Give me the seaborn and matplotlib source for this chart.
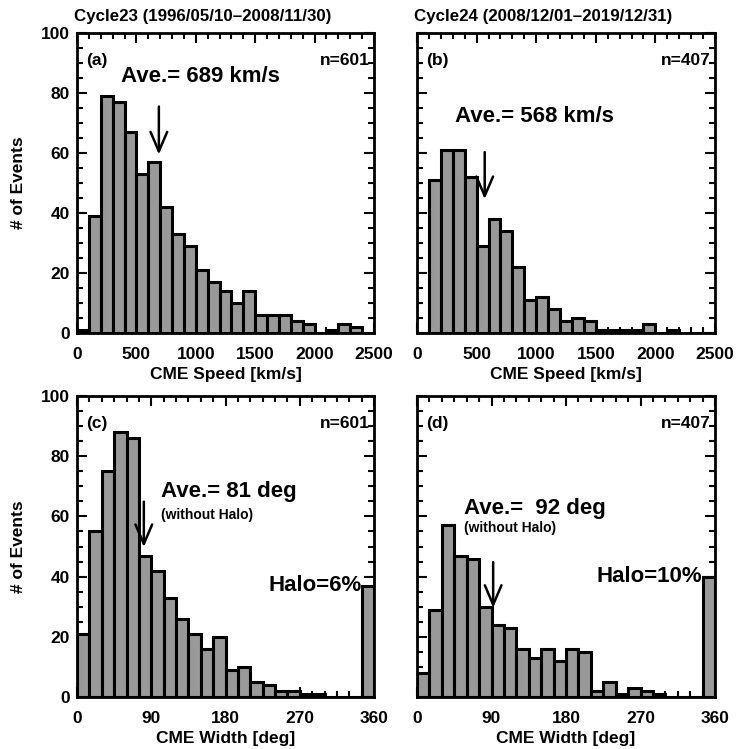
import matplotlib
matplotlib.use("Agg")
import matplotlib.pyplot as plt
import numpy as np
import pandas as pd
import seaborn as sns
from matplotlib.ticker import MultipleLocator

sns.set_theme(style="white")
plt.rcParams['font.family'] = ['Liberation Sans', 'DejaVu Sans']
plt.rcParams['font.weight'] = 'bold'
plt.rcParams['text.color'] = 'black'
plt.rcParams['axes.labelcolor'] = 'black'
plt.rcParams['xtick.color'] = 'black'
plt.rcParams['ytick.color'] = 'black'

# ---------------- data ----------------
speed_edges = list(range(0, 2600, 100))
speed_c23 = [1, 39, 79, 77, 67, 53, 57, 42, 33, 29, 21, 17, 14, 10, 14, 6, 6, 6, 4, 3, 0, 1, 3, 2, 0]
speed_c24 = [0, 51, 61, 61, 52, 29, 38, 34, 22, 11, 12, 8, 4, 5, 4, 1, 1, 1, 1, 3, 0, 1, 0, 0, 0]

width_edges = list(range(0, 375, 15))
width_c23 = [21, 55, 75, 88, 86, 47, 42, 33, 26, 21, 16, 20, 9, 10, 5, 4, 2, 2, 1, 1, 0, 0, 0, 37]
width_c24 = [8, 29, 57, 47, 46, 30, 24, 23, 16, 13, 16, 12, 16, 15, 2, 5, 1, 3, 2, 1, 0, 0, 0, 40]

titles = ["Cycle23 (1996/05/10\u20132008/11/30)", "Cycle24 (2008/12/01\u20132019/12/31)"]
panel_tags = ["(a)", "(b)", "(c)", "(d)"]
n_events = ["n=601", "n=407", "n=601", "n=407"]
speed_avg = [689, 568]
width_avg = [81, 92]
halo_text = ["Halo=6%", "Halo=10%"]

BAR = "#999999"
INK = "black"

W, H = 740, 749
fig = plt.figure(figsize=(W / 100, H / 100), dpi=100)

def box(l, t, r, b):
    return [l / W, (H - b) / H, (r - l) / W, (b - t) / H]

ax_a = fig.add_axes(box(77, 33, 374, 333))
ax_b = fig.add_axes(box(417, 33, 715, 333))
ax_c = fig.add_axes(box(77, 396, 374, 697))
ax_d = fig.add_axes(box(417, 396, 715, 697))
axes = [ax_a, ax_b, ax_c, ax_d]

def draw_hist(ax, edges, counts):
    e = [float(v) for v in edges]
    centers = [(e[k] + e[k + 1]) / 2 for k in range(len(e) - 1)]
    df = pd.DataFrame({"x": centers, "w": [float(c) for c in counts]})
    sns.histplot(data=df, x="x", weights="w", bins=e, ax=ax,
                 color=BAR, edgecolor="black", linewidth=2.2, alpha=1.0)

draw_hist(ax_a, speed_edges, speed_c23)
draw_hist(ax_b, speed_edges, speed_c24)
draw_hist(ax_c, width_edges, width_c23)
draw_hist(ax_d, width_edges, width_c24)

FS_TICK = 12.5
for i, ax in enumerate(axes):
    ax.set_ylim(0, 100)
    if i < 2:
        ax.set_xlim(0, 2500)
        ax.xaxis.set_major_locator(MultipleLocator(500))
        ax.xaxis.set_minor_locator(MultipleLocator(100))
        ax.set_xlabel("CME Speed [km/s]", fontsize=12.5, fontweight='bold', labelpad=4, color=INK)
    else:
        ax.set_xlim(0, 360)
        ax.xaxis.set_major_locator(MultipleLocator(90))
        ax.xaxis.set_minor_locator(MultipleLocator(15))
        ax.set_xlabel("CME Width [deg]", fontsize=12.5, fontweight='bold', labelpad=4, color=INK)
    ax.yaxis.set_major_locator(MultipleLocator(20))
    ax.yaxis.set_minor_locator(MultipleLocator(5))
    ax.tick_params(which='both', direction='in', top=True, right=True, bottom=True, left=True,
                   width=1.5, colors=INK, labelcolor=INK, labelsize=FS_TICK)
    ax.tick_params(which='major', length=7, pad=10)
    ax.tick_params(which='minor', length=4)
    for lab in ax.get_xticklabels() + ax.get_yticklabels():
        lab.set_fontweight('bold')
    for s in ax.spines.values():
        s.set_visible(True)
        s.set_color(INK)
        s.set_linewidth(2.0)
    ax.set_facecolor('white')
    if i in (0, 2):
        ax.set_ylabel("# of Events", fontsize=12.5, fontweight='bold', labelpad=11, color=INK)
        ax.tick_params(axis='y', pad=5)
    else:
        ax.set_ylabel("")
        ax.set_yticklabels([])
    ax.text(0.03, 0.91, panel_tags[i], transform=ax.transAxes, fontsize=12.5,
            fontweight='bold', ha='left', va='center', color=INK)
    ax.text(0.985, 0.91, n_events[i], transform=ax.transAxes, fontsize=12.5,
            fontweight='bold', ha='right', va='center', color=INK)

for ax, t in zip([ax_a, ax_b], titles):
    ax.set_title(t, loc='left', fontsize=12.2, fontweight='bold', pad=9, x=-0.01, color=INK)

arrow = dict(arrowstyle='->, head_length=0.7, head_width=0.3', lw=1.8, color=INK,
             mutation_scale=20, shrinkA=0, shrinkB=0)

# speed panels
ax_a.annotate('', xy=(speed_avg[0], 59.5), xytext=(speed_avg[0], 75.5), arrowprops=arrow)
ax_a.text(374, 85.5, f"Ave.= {speed_avg[0]} km/s", fontsize=16, fontweight='bold',
          ha='left', va='center', color=INK)
ax_b.annotate('', xy=(speed_avg[1], 44.6), xytext=(speed_avg[1], 60.3), arrowprops=arrow)
ax_b.text(319, 72, f"Ave.= {speed_avg[1]} km/s", fontsize=16, fontweight='bold',
          ha='left', va='center', color=INK)

# width panels
ax_c.annotate('', xy=(width_avg[0], 49.8), xytext=(width_avg[0], 64.9), arrowprops=arrow)
ax_c.text(102, 68.3, f"Ave.= {width_avg[0]} deg", fontsize=16, fontweight='bold',
          ha='left', va='center', color=INK)
ax_c.text(102, 60.6, "(without Halo)", fontsize=10, fontweight='bold', ha='left',
          va='center', color=INK)
ax_c.text(345, 37, halo_text[0], fontsize=16, fontweight='bold', ha='right', va='center', color=INK)

ax_d.annotate('', xy=(width_avg[1], 29.6), xytext=(width_avg[1], 44.8), arrowprops=arrow)
ax_d.text(57, 62.5, f"Ave.=  {width_avg[1]} deg", fontsize=16, fontweight='bold',
          ha='left', va='center', color=INK)
ax_d.text(57, 56.2, "(without Halo)", fontsize=10, fontweight='bold', ha='left',
          va='center', color=INK)
ax_d.text(345, 40, halo_text[1], fontsize=16, fontweight='bold', ha='right', va='center', color=INK)

fig.savefig("out.png", dpi=100, facecolor='white')
